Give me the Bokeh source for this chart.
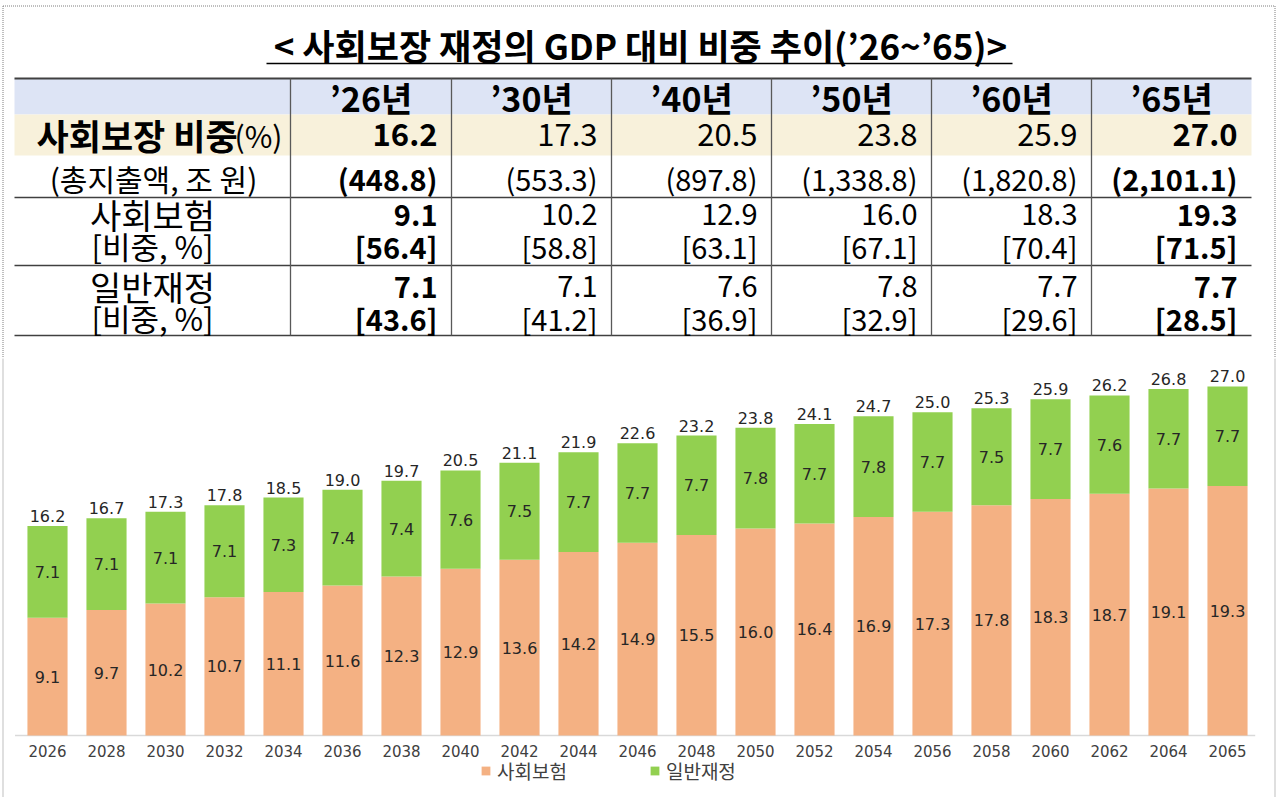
from bokeh.plotting import figure
from bokeh.models import Range1d, ColumnDataSource
from bokeh.layouts import column
from bokeh.embed import file_html
from bokeh.resources import INLINE
from bokeh.core.properties import value

# ---------------- data ----------------
title_text = "< 사회보장 재정의 GDP 대비 비중 추이(’26~’65)>"
col_headers = ["’26년", "’30년", "’40년", "’50년", "’60년", "’65년"]
row_labels = ["사회보장 비중", "(총지출액, 조 원)", "사회보험", "일반재정"]
share_unit = "(%)"
sub_label = "[비중, %]"
share_gdp = ["16.2", "17.3", "20.5", "23.8", "25.9", "27.0"]
total_spend = ["(448.8)", "(553.3)", "(897.8)", "(1,338.8)", "(1,820.8)", "(2,101.1)"]
ins_gdp = ["9.1", "10.2", "12.9", "16.0", "18.3", "19.3"]
ins_share = ["[56.4]", "[58.8]", "[63.1]", "[67.1]", "[70.4]", "[71.5]"]
gen_gdp = ["7.1", "7.1", "7.6", "7.8", "7.7", "7.7"]
gen_share = ["[43.6]", "[41.2]", "[36.9]", "[32.9]", "[29.6]", "[28.5]"]
bold_cols = [True, False, False, False, False, True]

years = ["2026", "2028", "2030", "2032", "2034", "2036", "2038", "2040", "2042", "2044",
         "2046", "2048", "2050", "2052", "2054", "2056", "2058", "2060", "2062", "2064", "2065"]
social_insurance = [9.1, 9.7, 10.2, 10.7, 11.1, 11.6, 12.3, 12.9, 13.6, 14.2,
                    14.9, 15.5, 16.0, 16.4, 16.9, 17.3, 17.8, 18.3, 18.7, 19.1, 19.3]
general_finance = [7.1, 7.1, 7.1, 7.1, 7.3, 7.4, 7.4, 7.6, 7.5, 7.7,
                   7.7, 7.7, 7.8, 7.7, 7.8, 7.7, 7.5, 7.7, 7.6, 7.7, 7.7]
totals = [16.2, 16.7, 17.3, 17.8, 18.5, 19.0, 19.7, 20.5, 21.1, 21.9,
          22.6, 23.2, 23.8, 24.1, 24.7, 25.0, 25.3, 25.9, 26.2, 26.8, 27.0]
series_names = ["사회보험", "일반재정"]

# ---------------- styles ----------------
KR_NAME = "Noto Sans CJK KR"
KR = value(KR_NAME)
CHART_FONT = value("DejaVu Sans")
ORANGE = "#F4B183"
GREEN = "#92D050"
HEAD_BG = "#DDE4F5"
BEIGE_BG = "#F8F1DB"
BORDER = "#7F7F7F"

W = 1281
TH = 358
BL, BR = 2.5, 1274.5   # dotted frame x positions

# ---------------- table figure ----------------
t = figure(width=W, height=TH, x_range=Range1d(0, W), y_range=Range1d(TH, 0),
           x_axis_type=None, y_axis_type=None, min_border=0,
           outline_line_color=None, output_backend="svg", toolbar_location=None)
t.grid.visible = False

# dotted outer frame
t.segment(x0=[BL, BL, BR], y0=[5.5, 5.5, 5.5], x1=[BR, BL, BR], y1=[5.5, TH, TH],
          line_color=BORDER, line_width=1, line_dash="1 1")

# title
t.text(x=[640], y=[44], text=[title_text], text_font=KR, text_font_style="bold",
       text_font_size="35px", text_align="center", text_baseline="middle", text_color="#000000")
t.segment(x0=[266], y0=[63], x1=[1012], y1=[63], line_color="#000000", line_width=1.5)

tbl_left, tbl_right = 14, 1251
edges = [290, 451, 611, 771, 931, 1091, 1251]
centers = [(edges[i] + edges[i + 1]) / 2 for i in range(6)]
rights = [edges[i + 1] - 14 for i in range(6)]

# row backgrounds
t.quad(left=[tbl_left], right=[tbl_right], top=[78], bottom=[114], fill_color=HEAD_BG, line_color=None)
t.quad(left=[tbl_left], right=[tbl_right], top=[114], bottom=[155], fill_color=BEIGE_BG, line_color=None)

# horizontal rules
t.segment(x0=[tbl_left] * 4, x1=[tbl_right] * 4, y0=[78, 197, 265, 335], y1=[78, 197, 265, 335],
          line_color="#404040", line_width=[2, 1.5, 1.5, 1.5])
# vertical rules
t.segment(x0=edges[:-1], x1=edges[:-1], y0=[78] * 6, y1=[335] * 6, line_color="#595959", line_width=1.3)

# header
t.text(x=centers, y=[97] * 6, text=col_headers, text_font=KR, text_font_style="bold",
       text_font_size="34px", text_align="center", text_baseline="middle", text_color="#000000")

# row labels
t.text(x=[36], y=[134], text=[row_labels[0]], text_font=KR, text_font_style="bold",
       text_font_size="35px", text_align="left", text_baseline="middle", text_color="#000000")
t.text(x=[234], y=[134], text=[share_unit], text_font=KR, text_font_size="30px",
       text_align="left", text_baseline="middle", text_color="#000000")
t.text(x=[153], y=[177], text=[row_labels[1]], text_font=KR, text_font_size="30px",
       text_align="center", text_baseline="middle", text_color="#000000")
t.text(x=[152, 152], y=[214, 286], text=[row_labels[2], row_labels[3]], text_font=KR,
       text_font_size="34px", text_align="center", text_baseline="middle", text_color="#000000")
t.text(x=[152, 152], y=[245, 317], text=[sub_label, sub_label], text_font=KR,
       text_font_size="31px", text_align="center", text_baseline="middle", text_color="#000000")

# values
rows = [(share_gdp, 134, "31px"), (total_spend, 177, "29px"), (ins_gdp, 214, "29px"),
        (ins_share, 245, "29px"), (gen_gdp, 286, "29px"), (gen_share, 317, "29px")]
for vals, yy, fs in rows:
    for bold in (True, False):
        idx = [i for i in range(6) if bold_cols[i] == bold]
        t.text(x=[rights[i] for i in idx], y=[yy] * len(idx), text=[vals[i] for i in idx],
               text_font=KR, text_font_style="bold" if bold else "normal",
               text_font_size=fs, text_align="right", text_baseline="middle", text_color="#000000")

# ---------------- chart figure ----------------
CH = 439
step = 59.0          # px per category
first_px = 47.0      # px of first bar centre
unit_px = 12.93      # px per %p
base_px = 377.0      # px of baseline from top of this figure

idx = list(range(len(years)))
stack_top = [a + b for a, b in zip(social_insurance, general_finance)]
src = ColumnDataSource(dict(
    x=idx, year=years, ins=social_insurance, gen=general_finance,
    ins_mid=[v / 2 for v in social_insurance],
    gen_mid=[a + b / 2 for a, b in zip(social_insurance, general_finance)],
    top=stack_top,
    ins_lbl=[f"{v:.1f}" for v in social_insurance],
    gen_lbl=[f"{v:.1f}" for v in general_finance],
    tot_lbl=[f"{v:.1f}" for v in totals],
    zero=[0] * len(years),
))

c = figure(width=W, height=CH,
           x_range=Range1d(-first_px / step, (W - first_px) / step),
           y_range=Range1d(-(CH - base_px) / unit_px, base_px / unit_px),
           x_axis_type=None, y_axis_type=None, min_border=0,
           outline_line_color=None, output_backend="svg", toolbar_location=None)
c.grid.visible = False
c.extra_x_ranges = {"px": Range1d(0, W)}
c.extra_y_ranges = {"px": Range1d(CH, 0)}

# dotted outer frame continues
c.segment(x0=[BL, BR], y0=[0, 0], x1=[BL, BR], y1=[CH, CH], x_range_name="px",
          y_range_name="px", line_color=BORDER, line_width=1, line_dash="1 1")

# baseline
c.segment(x0=[idx[0] - 0.55], x1=[idx[-1] + 0.47], y0=[0], y1=[0], line_color="#D9D9D9", line_width=1.5)

c.vbar_stack(["ins", "gen"], x="x", width=0.68, color=[ORANGE, GREEN], line_color=None,
             source=src, legend_label=series_names)

lbl = dict(text_font=CHART_FONT, text_font_size="16px", text_align="center", text_color="#262626")
c.text(x="x", y="ins_mid", text="ins_lbl", source=src, text_baseline="middle", **lbl)
c.text(x="x", y="gen_mid", text="gen_lbl", source=src, text_baseline="middle", **lbl)
c.text(x="x", y="top", text="tot_lbl", source=src, text_baseline="bottom", y_offset=-4,
       text_font=CHART_FONT, text_font_size="16px", text_align="center", text_color="#262626")
# category (year) labels under the baseline
c.text(x="x", y="zero", text="year", source=src, text_baseline="middle", y_offset=15,
       text_font=CHART_FONT, text_font_size="15px", text_align="center", text_color="#404040")

leg = c.legend[0]
leg.orientation = "horizontal"
leg.location = (480, 13)
leg.border_line_color = None
leg.background_fill_alpha = 0
leg.padding = 0
leg.margin = 0
leg.spacing = 82
leg.glyph_width = 11
leg.glyph_height = 11
leg.label_standoff = 6
leg.label_text_font = KR_NAME
leg.label_text_font_size = "19px"
leg.label_text_color = "#404040"

layout = column(t, c, spacing=0)
open("out.html", "w").write(file_html(layout, INLINE, "사회보장 재정의 GDP 대비 비중 추이"))
